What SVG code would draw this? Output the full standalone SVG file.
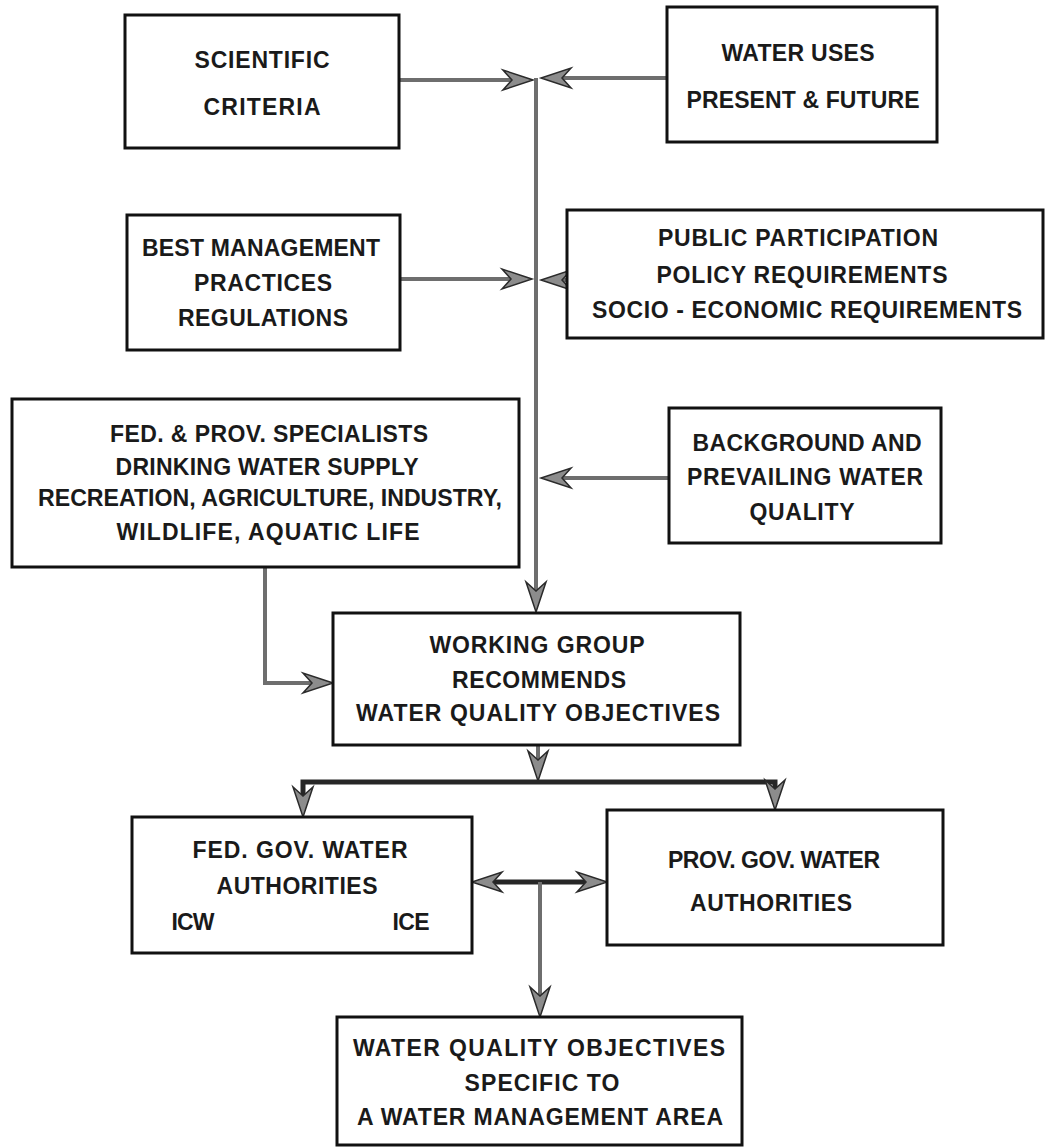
<svg xmlns="http://www.w3.org/2000/svg" width="1047" height="1148" viewBox="0 0 1047 1148">
<style>
.box{fill:#fff;stroke:#111;stroke-width:3}
.t{font-family:"Liberation Sans",Arial,sans-serif;font-weight:bold;font-size:23px;fill:#1a1a1a;text-anchor:middle}
.c{fill:none;stroke:#6e6e6e;stroke-width:4}
.cd{fill:none;stroke:#262626;stroke-width:5}
</style>
<defs>
<marker id="ah" markerUnits="userSpaceOnUse" viewBox="-36 -12 40 24" markerWidth="40" markerHeight="24" refX="-6" refY="0" orient="auto-start-reverse" overflow="visible">
<path d="M0,0 L-30,-10 L-21,0 L-30,10 Z" fill="#8c8c8c" stroke="#2a2a2a" stroke-width="1.5" stroke-linejoin="miter"/>
</marker>
</defs>
<rect width="1047" height="1148" fill="#fff"/>
<g id="connectors">
<path class="c" d="M399,80 H527" marker-end="url(#ah)"/>
<path class="c" d="M667,78 H547" marker-end="url(#ah)"/>
<path class="c" d="M536,78 V606" marker-end="url(#ah)"/>
<path class="c" d="M400,279 H526" marker-end="url(#ah)"/>
<path class="c" d="M567,280 H547" marker-end="url(#ah)"/>
<path class="c" d="M669,478 H547" marker-end="url(#ah)"/>
<path class="c" d="M265,567 V683 H327" marker-end="url(#ah)"/>
<path class="c" d="M538,745 V775" marker-end="url(#ah)"/>
<path class="cd" d="M303,811 V782 H775 V804" marker-start="url(#ah)" marker-end="url(#ah)"/>
<path class="cd" d="M478,882 H601" marker-start="url(#ah)" marker-end="url(#ah)"/>
<path class="c" d="M540,882 V1011" marker-end="url(#ah)"/>
</g>
<g id="scientific-criteria">
<rect class="box" x="125" y="15" width="274" height="133"/>
<text class="t" x="262" y="68" textLength="135" lengthAdjust="spacing">SCIENTIFIC</text>
<text class="t" x="262" y="115" textLength="117" lengthAdjust="spacing">CRITERIA</text>
</g>
<g id="water-uses">
<rect class="box" x="667" y="7" width="270" height="135"/>
<text class="t" x="798" y="61" textLength="153" lengthAdjust="spacing">WATER USES</text>
<text class="t" x="803" y="108" textLength="233" lengthAdjust="spacing">PRESENT &amp; FUTURE</text>
</g>
<g id="best-management">
<rect class="box" x="127" y="215" width="273" height="135"/>
<text class="t" x="261" y="256" textLength="238" lengthAdjust="spacing">BEST MANAGEMENT</text>
<text class="t" x="263" y="291" textLength="138" lengthAdjust="spacing">PRACTICES</text>
<text class="t" x="263" y="326" textLength="170" lengthAdjust="spacing">REGULATIONS</text>
</g>
<g id="public-participation">
<rect class="box" x="567" y="210" width="476" height="128"/>
<text class="t" x="798" y="246" textLength="280" lengthAdjust="spacing">PUBLIC PARTICIPATION</text>
<text class="t" x="802" y="283" textLength="291" lengthAdjust="spacing">POLICY REQUIREMENTS</text>
<text class="t" x="807" y="318" textLength="430" lengthAdjust="spacing">SOCIO - ECONOMIC  REQUIREMENTS</text>
</g>
<g id="specialists">
<rect class="box" x="12" y="399" width="507" height="168"/>
<text class="t" x="269" y="442" textLength="318" lengthAdjust="spacing">FED. &amp; PROV. SPECIALISTS</text>
<text class="t" x="267" y="475" textLength="303" lengthAdjust="spacing">DRINKING WATER SUPPLY</text>
<text class="t" x="270" y="506" textLength="464" lengthAdjust="spacingAndGlyphs">RECREATION, AGRICULTURE, INDUSTRY,</text>
<text class="t" x="268" y="540" textLength="303" lengthAdjust="spacing">WILDLIFE, AQUATIC LIFE</text>
</g>
<g id="background">
<rect class="box" x="669" y="408" width="272" height="135"/>
<text class="t" x="807" y="451" textLength="229" lengthAdjust="spacing">BACKGROUND AND</text>
<text class="t" x="805" y="485" textLength="236" lengthAdjust="spacing">PREVAILING WATER</text>
<text class="t" x="802" y="520" textLength="105" lengthAdjust="spacing">QUALITY</text>
</g>
<g id="working-group">
<rect class="box" x="333" y="613" width="407" height="132"/>
<text class="t" x="537" y="653" textLength="215" lengthAdjust="spacing">WORKING GROUP</text>
<text class="t" x="539" y="688" textLength="174" lengthAdjust="spacing">RECOMMENDS</text>
<text class="t" x="538" y="721" textLength="364" lengthAdjust="spacing">WATER QUALITY OBJECTIVES</text>
</g>
<g id="fed-gov">
<rect class="box" x="132" y="817" width="340" height="136"/>
<text class="t" x="300" y="858" textLength="215" lengthAdjust="spacing">FED. GOV.  WATER</text>
<text class="t" x="297" y="894" textLength="161" lengthAdjust="spacing">AUTHORITIES</text>
<text class="t" x="193" y="930" textLength="43" lengthAdjust="spacing">ICW</text>
<text class="t" x="411" y="930" textLength="37" lengthAdjust="spacing">ICE</text>
</g>
<g id="prov-gov">
<rect class="box" x="607" y="810" width="336" height="135"/>
<text class="t" x="774" y="868" textLength="212" lengthAdjust="spacing">PROV. GOV. WATER</text>
<text class="t" x="771" y="911" textLength="162" lengthAdjust="spacing">AUTHORITIES</text>
</g>
<g id="specific-objectives">
<rect class="box" x="337" y="1017" width="405" height="128"/>
<text class="t" x="539" y="1056" textLength="372" lengthAdjust="spacing">WATER  QUALITY  OBJECTIVES</text>
<text class="t" x="542" y="1091" textLength="155" lengthAdjust="spacing">SPECIFIC  TO</text>
<text class="t" x="540" y="1125" textLength="366" lengthAdjust="spacing">A WATER MANAGEMENT AREA</text>
</g>
</svg>
